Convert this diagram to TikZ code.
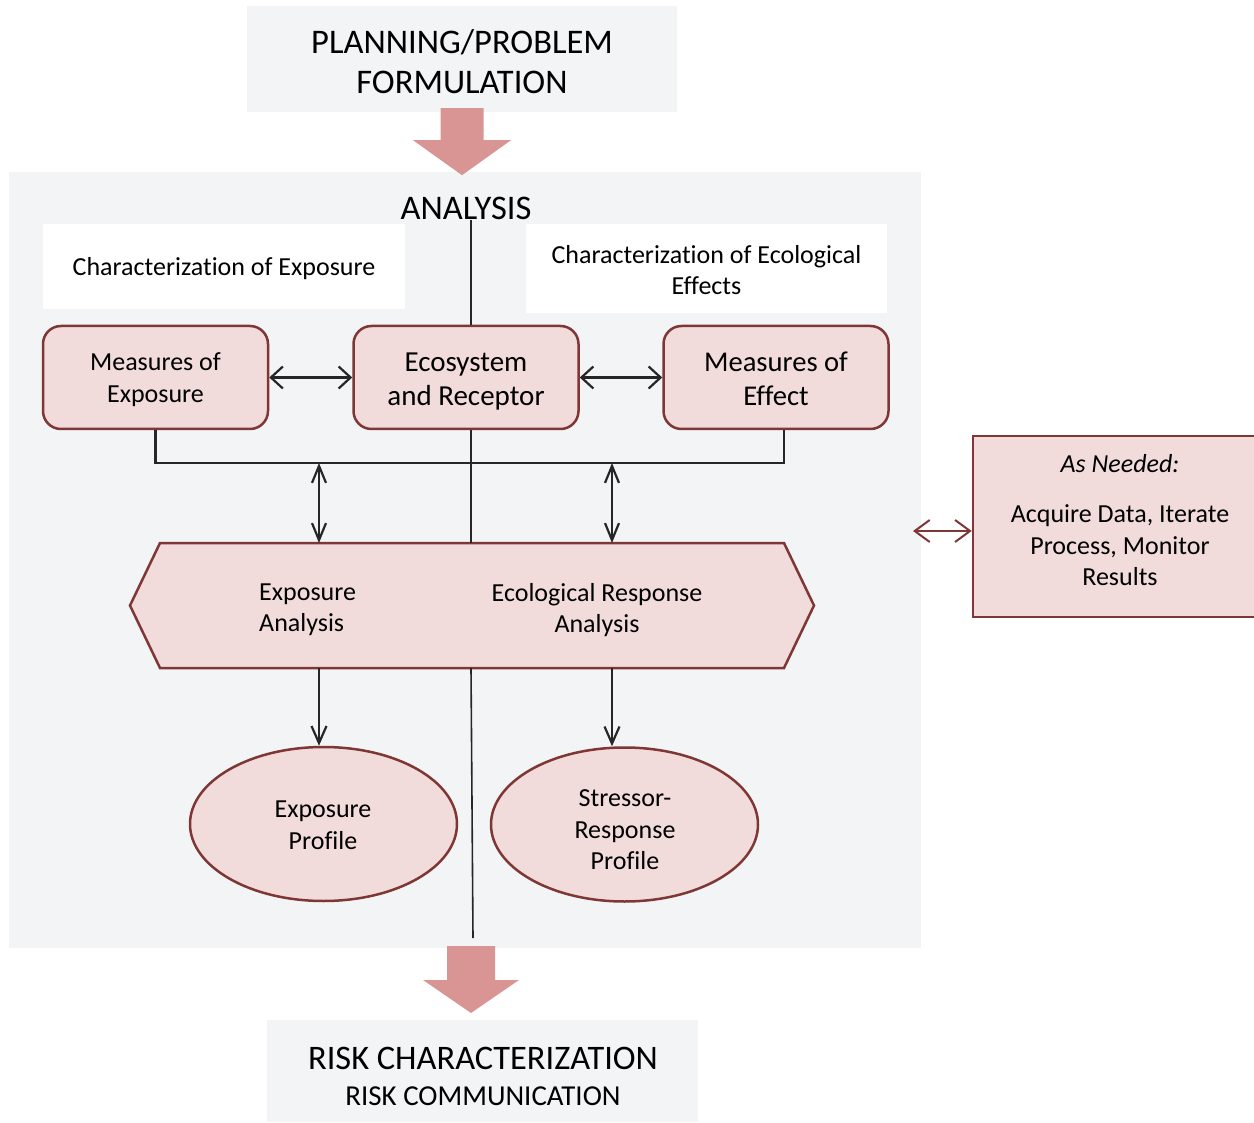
\documentclass[tikz,border=0pt]{standalone}
\usepackage{fontspec}
\setmainfont{Carlito}[Ligatures=NoCommon]
\usetikzlibrary{arrows.meta,shapes.geometric,calc}
\definecolor{panelgrey}{HTML}{F3F4F6}
\definecolor{pinkfill}{HTML}{F2DCDB}
\definecolor{edgered}{HTML}{7E3735}
\definecolor{blockpink}{HTML}{D99594}
\newcommand\fsz[2]{\fontsize{#1}{#2}\selectfont}

\begin{document}
\begin{tikzpicture}[x=1pt,y=-1pt,
  titlebox/.style={fill=panelgrey, inner sep=0pt},
  labelbox/.style={fill=white, inner sep=0pt},
  roundbox/.style={draw=edgered, line width=2.5pt, fill=pinkfill, rounded corners=18pt,
    minimum width=225pt, minimum height=103pt, inner sep=0pt},
  profile/.style={ellipse, draw=edgered, line width=2.5pt, fill=pinkfill,
    minimum width=267pt, minimum height=154pt, inner sep=0pt},
  txt/.style={inner sep=0pt, align=center, font=\fsz{26}{31.5}},
  link/.style={line width=2.2pt, black!85},
  hhead/.style={link, {Straight Barb[length=12pt,width=22pt]}-{Straight Barb[length=12pt,width=22pt]}},
  vhead/.style={link, {Straight Barb[length=17pt,width=14pt]}-{Straight Barb[length=17pt,width=14pt]}},
  downhead/.style={link, -{Straight Barb[length=17pt,width=15pt]}},
  spine/.style={line width=1.6pt, black!85},
  block/.style={fill=blockpink},
]
\useasboundingbox (0,0) rectangle (1254,1123);

% analysis panel
\node[fill=panelgrey, minimum width=912pt, minimum height=776pt, inner sep=0pt] (panel) at (465,560) {};

% planning box and arrow into the analysis panel
\node[titlebox, minimum width=430pt, minimum height=106pt] (plan) at (462,59) {};
\node[txt, font=\fsz{34.5}{40}] (plantxt) at (462,62) {PLANNING/PROBLEM\\FORMULATION};
\fill[block] ($(plan.south)+(-21.5,-4)$) -- ($(plan.south)+(21.5,-4)$) -- ($(plan.south)+(21.5,28)$)
  -- ($(plan.south)+(49,28)$) -- ($(plan.south)+(0,63)$) -- ($(plan.south)+(-49,28)$)
  -- ($(plan.south)+(-21.5,28)$) -- cycle;

\node[inner sep=0pt, font=\fsz{34.5}{40}] (analysis) at (466,208) {ANALYSIS};

% section headings
\node[labelbox, minimum width=362pt, minimum height=85pt] (cexp) at (224,266.5) {};
\node[txt] (cexptxt) at (224,268.5) {Characterization of Exposure};
\node[labelbox, minimum width=361pt, minimum height=89pt] (ceco) at (706.5,268.5) {};
\node[txt, font=\fsz{26}{31}] (cecotxt) at (706.5,270.5) {Characterization of Ecological\\Effects};

% measures
\node[roundbox] (me) at (155.5,377.5) {};
\node[txt, font=\fsz{26}{32}] (metxt) at (155.5,379.5) {Measures of\\Exposure};
\node[roundbox] (er) at (466,377.5) {};
\node[txt, font=\fsz{29}{34}] (ertxt) at (466,381.5) {Ecosystem\\and Receptor};
\node[roundbox] (mf) at (776,377.5) {};
\node[txt, font=\fsz{28.6}{34}] (mftxt) at (776,378.5) {Measures of\\Effect};

% analysis hexagon
\coordinate (hl) at (130,605.5);
\coordinate (htl) at (160,543);
\coordinate (htr) at (784,543);
\coordinate (hr) at (814,605.5);
\coordinate (hbr) at (784,668);
\coordinate (hbl) at (160,668);
\draw[edgered, line width=2.5pt, fill=pinkfill, line join=miter] (hl) -- (htl) -- (htr) -- (hr) -- (hbr) -- (hbl) -- cycle;
\node[txt, align=left, anchor=west] (expa) at (259,610) {Exposure\\Analysis};
\node[txt] (ecoa) at (597,610) {Ecological Response\\Analysis};

% profiles
\node[profile] (ep) at (323.5,824) {};
\node[txt] (eptxt) at (323,825) {Exposure\\Profile};
\node[profile] (sp) at (624.5,824.5) {};
\node[txt] (sptxt) at (625,830) {Stressor-\\Response\\Profile};

% risk characterization box
\node[titlebox, minimum width=431pt, minimum height=102pt] (risk) at (482.5,1071) {};
\node[inner sep=0pt, font=\fsz{34.4}{38}] (rc1) at (483,1058) {RISK CHARACTERIZATION};
\node[inner sep=0pt, font=\fsz{28.9}{38}] (rc2) at (483,1096) {RISK COMMUNICATION};

% as-needed box
\node[draw=edgered, line width=2.5pt, fill=pinkfill, minimum width=290pt, minimum height=181pt, inner sep=0pt] (need) at (1118,526.5) {};
\node[inner sep=0pt, font=\fsz{26}{31.5}\itshape] (needhd) at (1120,464) {As Needed:};
\node[txt] (needtxt) at (1120,545.5) {Acquire Data, Iterate\\Process, Monitor\\Results};

% connectors
\coordinate (spx) at (471,0);
\coordinate (bar) at (0,463);
\coordinate (rleg) at (784,0);
\coordinate (a1) at (319,463);
\coordinate (a2) at (612,463);
\coordinate (spend) at (473,938);
\coordinate (rtop) at (471,946);
\coordinate (lend) at (913,531);

\draw[spine] (analysis.south -| spx) -- (er.north -| spx);
\draw[spine] (er.south -| spx) -- (htl -| spx);
\draw[spine] (hbl -| spx) -- (spend);

\draw[hhead] (me.east) -- (er.west);
\draw[hhead] (er.east) -- (mf.west);
\draw[link] (me.south) |- (rleg |- bar) -- (rleg |- mf.south);
\draw[vhead] (a1) -- (htl -| a1);
\draw[vhead] (a2) -- (htl -| a2);
\draw[downhead] (hbl -| a1) -- (ep.north -| a1);
\draw[downhead] (hbl -| a2) -- (sp.north -| a2);

\draw[line width=2pt, edgered, {Straight Barb[length=15pt,width=22pt]}-{Straight Barb[length=15pt,width=22pt]}] (lend) -- (lend -| need.west);

% arrow into the risk box
\fill[block] ($(rtop)+(-24,0)$) -- ($(rtop)+(24,0)$) -- ($(rtop)+(24,34)$) -- ($(rtop)+(48,34)$)
  -- ($(rtop)+(0,67)$) -- ($(rtop)+(-48,34)$) -- ($(rtop)+(-24,34)$) -- cycle;
\end{tikzpicture}
\end{document}
